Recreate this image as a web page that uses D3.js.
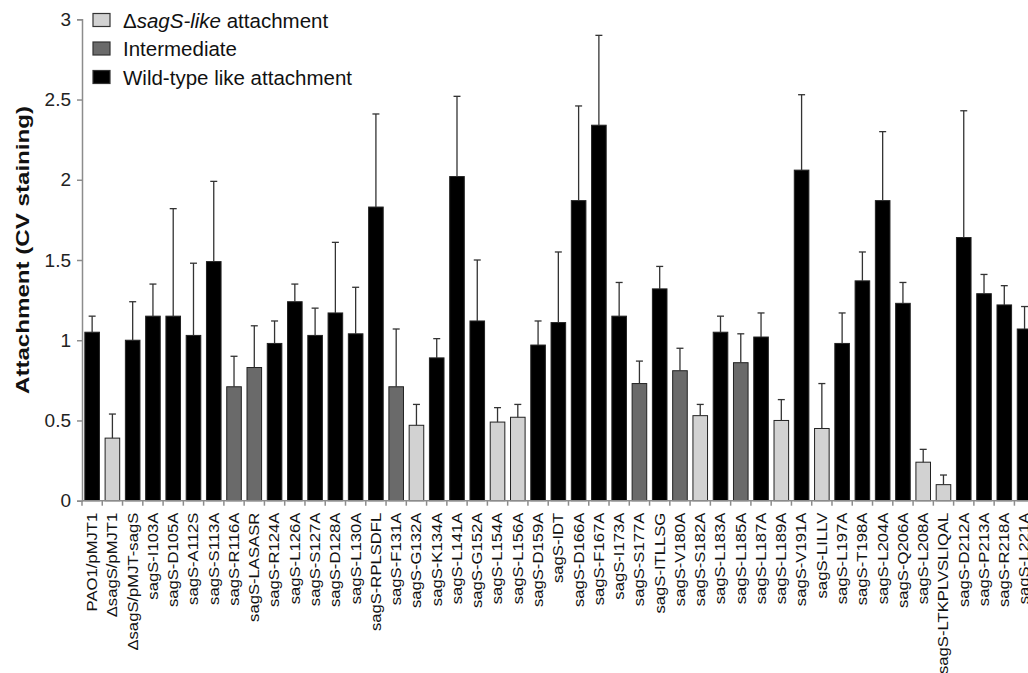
<!DOCTYPE html>
<html>
<head>
<meta charset="utf-8">
<script src="https://cdn.jsdelivr.net/npm/d3@7"></script>
<style>
  html, body { margin: 0; padding: 0; background: #fff; }
  svg { display: block; font-family: "Liberation Sans", Arial, sans-serif; }
</style>
</head>
<body>
<svg id="main-svg" width="1028" height="673"></svg>
<script>
// strains on the x axis
var categories = [
  'PAO1/pMJT1', '\u0394sagS/pMJT1', '\u0394sagS/pMJT-sagS', 'sagS-I103A', 'sagS-D105A',
  'sagS-A112S', 'sagS-S113A', 'sagS-R116A', 'sagS-LASASR', 'sagS-R124A',
  'sagS-L126A', 'sagS-S127A', 'sagS-D128A', 'sagS-L130A', 'sagS-RPLSDFL',
  'sagS-F131A', 'sagS-G132A', 'sagS-K134A', 'sagS-L141A', 'sagS-G152A',
  'sagS-L154A', 'sagS-L156A', 'sagS-D159A', 'sagS-IDT', 'sagS-D166A',
  'sagS-F167A', 'sagS-I173A', 'sagS-S177A', 'sagS-ITLLSG', 'sagS-V180A',
  'sagS-S182A', 'sagS-L183A', 'sagS-L185A', 'sagS-L187A', 'sagS-L189A',
  'sagS-V191A', 'sagS-LILLV', 'sagS-L197A', 'sagS-T198A', 'sagS-L204A',
  'sagS-Q206A', 'sagS-L208A', 'sagS-LTKPLVSLIQAL', 'sagS-D212A', 'sagS-P213A',
  'sagS-R218A', 'sagS-L221A'
]
// mean attachment (CV staining)
var values = [
  1.05, 0.39, 1.00, 1.15, 1.15, 1.03, 1.49, 0.71, 0.83, 0.98,
  1.24, 1.03, 1.17, 1.04, 1.83, 0.71, 0.47, 0.89, 2.02, 1.12,
  0.49, 0.52, 0.97, 1.11, 1.87, 2.34, 1.15, 0.73, 1.32, 0.81,
  0.53, 1.05, 0.86, 1.02, 0.50, 2.06, 0.45, 0.98, 1.37, 1.87,
  1.23, 0.24, 0.10, 1.64, 1.29, 1.22, 1.07
]
// standard deviation (upper error bar only)
var errors = [
  0.10, 0.15, 0.24, 0.20, 0.67, 0.45, 0.50, 0.19, 0.26, 0.14,
  0.11, 0.17, 0.44, 0.29, 0.58, 0.36, 0.13, 0.12, 0.50, 0.38,
  0.09, 0.08, 0.15, 0.44, 0.59, 0.56, 0.21, 0.14, 0.14, 0.14,
  0.07, 0.10, 0.18, 0.15, 0.13, 0.47, 0.28, 0.19, 0.18, 0.43,
  0.13, 0.08, 0.06, 0.79, 0.12, 0.12, 0.14
]
// phenotype class: D = deltaSagS-like, I = intermediate, W = wild-type like
var groups = [
  'W', 'D', 'W', 'W', 'W', 'W', 'W', 'I', 'I', 'W',
  'W', 'W', 'W', 'W', 'W', 'I', 'D', 'W', 'W', 'W',
  'D', 'D', 'W', 'W', 'W', 'W', 'W', 'I', 'W', 'I',
  'D', 'W', 'I', 'W', 'D', 'W', 'D', 'W', 'W', 'W',
  'W', 'D', 'D', 'W', 'W', 'W', 'W'
]
var yTicks = [0, 0.5, 1, 1.5, 2, 2.5, 3]
var legendKeys = ['D', 'I', 'W']

var fills = { D: '#d2d2d2', I: '#6a6a6a', W: '#000000' }
var axisColor = '#8c8c8c'

var svg = d3.select('#main-svg')

var left = 82, step = 20.27, y0 = 500.7, y3 = 19.3
var x = d3.scaleBand()
    .domain(categories)
    .range([left, left + step * categories.length])
    .paddingInner(0.28)
    .paddingOuter(0.14)
var y = d3.scaleLinear().domain([0, 3]).range([y0, y3])

var data = categories.map(function(c, i) {
    return { name: c, v: values[i], e: errors[i], g: groups[i] }
})

// bars
svg.append('g').selectAll('rect')
    .data(data)
    .enter().append('rect')
    .attr('x', function(d) { return x(d.name) })
    .attr('y', function(d) { return y(d.v) })
    .attr('width', x.bandwidth())
    .attr('height', function(d) { return y(0) - y(d.v) })
    .attr('fill', function(d) { return fills[d.g] })
    .attr('stroke', '#222')
    .attr('stroke-width', 1)

// error bars (upper only)
var eb = svg.append('g').attr('stroke', '#333').attr('stroke-width', 1.3)
data.forEach(function(d) {
    var cx = x(d.name) + x.bandwidth() / 2
    eb.append('line')
        .attr('x1', cx).attr('x2', cx)
        .attr('y1', y(d.v)).attr('y2', y(d.v + d.e))
    eb.append('line')
        .attr('x1', cx - 3.5).attr('x2', cx + 3.5)
        .attr('y1', y(d.v + d.e)).attr('y2', y(d.v + d.e))
})

// y axis
var yAxis = svg.append('g')
    .attr('transform', 'translate(' + left + ',0)')
    .call(d3.axisLeft(y).tickValues(yTicks).tickSize(5).tickPadding(6).tickFormat(d3.format('')))
yAxis.select('.domain').attr('stroke', axisColor).attr('stroke-width', 1.5)
yAxis.selectAll('.tick line').attr('stroke', axisColor).attr('stroke-width', 1.5)
yAxis.selectAll('.tick text')
    .attr('fill', '#222')
    .style('font-size', '19px')
    .style('font-family', '"Liberation Sans", Arial, sans-serif')

// x axis line and ticks between categories
var xAxis = svg.append('g')
xAxis.append('line')
    .attr('x1', left).attr('x2', x.range()[1])
    .attr('y1', y(0)).attr('y2', y(0))
    .attr('stroke', axisColor).attr('stroke-width', 1.5)
var bounds = d3.range(categories.length + 1).map(function(i) { return x.range()[0] + i * x.step() })
xAxis.selectAll('.xtick')
    .data(bounds)
    .enter().append('line')
    .attr('class', 'xtick')
    .attr('x1', function(d) { return d }).attr('x2', function(d) { return d })
    .attr('y1', y(0)).attr('y2', y(0) + 5)
    .attr('stroke', axisColor).attr('stroke-width', 1.5)

// rotated category labels
xAxis.selectAll('.xlabel')
    .data(categories)
    .enter().append('text')
    .attr('class', 'xlabel')
    .attr('transform', function(d) {
        return 'translate(' + (x(d) + x.bandwidth() / 2) + ',' + (y(0) + 12) + ') rotate(-90) scale(1.19,1)'
    })
    .attr('text-anchor', 'end')
    .attr('dy', '0.35em')
    .attr('fill', '#111')
    .style('font-size', '14px')
    .text(function(d) { return d })

// y axis title
svg.append('text')
    .attr('transform', 'translate(29,250) rotate(-90) scale(1.27,1)')
    .attr('text-anchor', 'middle')
    .attr('fill', '#111')
    .style('font-size', '19px')
    .style('font-weight', 'bold')
    .text('Attachment (CV staining)')

// legend
var legend = svg.append('g')
legendKeys.forEach(function(k, i) {
    var cy = 20 + i * 28.5
    legend.append('rect')
        .attr('x', 93).attr('y', cy - 6.5)
        .attr('width', 17).attr('height', 13)
        .attr('fill', fills[k])
        .attr('stroke', '#333').attr('stroke-width', 1.2)
    var t = legend.append('text')
        .attr('x', 123).attr('y', cy + 7.5)
        .attr('fill', '#111')
        .style('font-size', '20.5px')
    if (k === 'D') {
        t.append('tspan').text('\u0394')
        t.append('tspan').style('font-style', 'italic').text('sagS-like')
        t.append('tspan').text(' attachment')
    } else if (k === 'I') {
        t.text('Intermediate')
    } else {
        t.text('Wild-type like attachment')
    }
})
</script>
</body>
</html>
